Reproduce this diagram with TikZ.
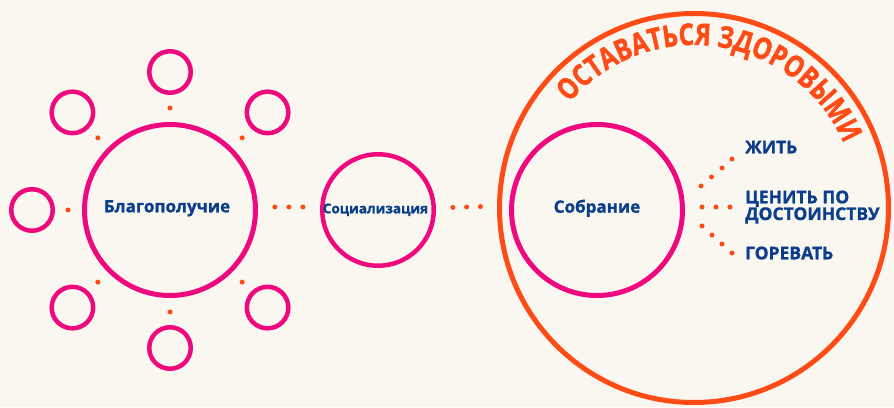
\documentclass[tikz,border=0pt]{standalone}
\usepackage{fontspec}
\setmainfont{Open Sans}[BoldFeatures={FakeBold=1.2}]
\newfontfamily\arcfont{Open Sans}[FakeStretch=0.8, BoldFeatures={FakeBold=1.5}]
\usetikzlibrary{calc,decorations.text}
\definecolor{paper}{HTML}{FAF7F0}
\definecolor{ringpink}{HTML}{EE0A7E}
\definecolor{ringorange}{HTML}{FF4B16}
\definecolor{textblue}{HTML}{0B3F8C}
\tikzset{
  ring/.style={circle, draw=ringpink, line width=5pt, inner sep=0pt, outer sep=0pt},
  bigring/.style={ring, minimum size=171pt},
  midring/.style={ring, line width=4.5pt, minimum size=111.5pt},
  smallring/.style={ring, line width=4.5pt, minimum size=41.5pt},
  hoop/.style={circle, draw=ringorange, line width=5pt, inner sep=0pt, outer sep=0pt, minimum size=389pt},
  ringtext/.style={text=textblue, font=\bfseries\fontsize{17}{20}\selectfont, anchor=base},
  sidetext/.style={text=textblue, font=\bfseries\fontsize{17.5}{16.7}\selectfont, anchor=base west, align=left, inner sep=0pt}
}
\begin{document}
\begin{tikzpicture}[x=1pt, y=1pt]
  \fill[paper] (0, 0) rectangle (894, 407);
  \useasboundingbox (0, 0) rectangle (894, 407);
  % rings
  \node[bigring] (wellbeing) at (170, 197) {};
  \foreach \a in {45, 90, 135, 180, 225, 270, 315} {
    \node[smallring] (sat\a) at ($(wellbeing)+(\a:138pt)$) {};
    \fill[ringorange] ($(wellbeing)!102pt!(sat\a)$) circle (2.5pt);
  }
  \node[midring] (social) at (378, 197) {};
  \node[hoop] (healthy) at (694, 199) {};
  \node[bigring] (assembly) at (597, 197) {};
  % dotted links
  \foreach \f in {0.29, 0.5, 0.71} {
    \fill[ringorange] ([yshift=3pt]$(wellbeing.east)!\f!(social.west)$) circle (2.5pt);
    \fill[ringorange] ([yshift=2pt]$(social.east)!\f!(healthy.west)$) circle (2.5pt);
  }
  \foreach \p in {(701, 221), (711.5, 230), (722, 239), (732, 248),
                  (702, 200), (716, 200), (730, 200),
                  (702, 181), (712, 172), (722, 163), (732, 154)}
    \fill[ringorange] \p circle (2.5pt);
  % texts
  \node[ringtext] at ($(wellbeing)+(-3, -2.3)$) {Благополучие};
  \node[ringtext, font=\bfseries\fontsize{13.5}{16}\selectfont] at ($(social)+(-2.5, -3.3)$) {Социализация};
  \node[ringtext] at ($(assembly)+(0, -2.7)$) {Собрание};
  \node[sidetext] (live) at (745, 253.7) {ЖИТЬ};
  \node[sidetext] (value) at (745, 187) {ЦЕНИТЬ ПО\\ДОСТОИНСТВУ};
  \node[sidetext] (grieve) at (745, 147.7) {ГОРЕВАТЬ};
  \path[decorate, decoration={text along path, text align=center,
      text={|\arcfont\bfseries\fontsize{30}{32}\selectfont\color{ringorange}|ОСТАВАТЬСЯ ЗДОРОВЫМИ}}]
    ($(healthy)+(150:163pt)$) arc[start angle=150, end angle=13, radius=163pt];
\end{tikzpicture}
\end{document}
